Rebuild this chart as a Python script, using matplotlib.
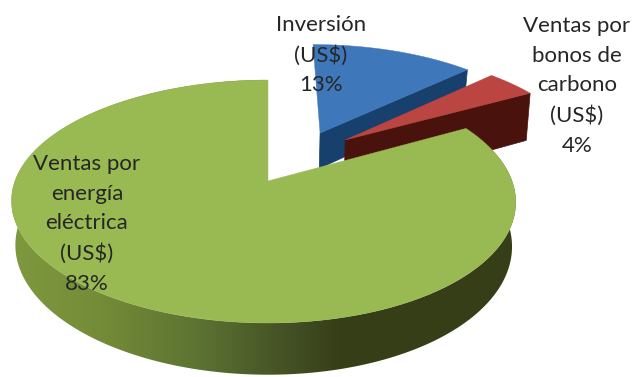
import matplotlib
matplotlib.use("Agg")
import matplotlib.pyplot as plt
from matplotlib.patches import Polygon
import numpy as np

# Data
categories = ["Inversión\n(US$)", "Ventas por\nbonos de\ncarbono\n(US$)", "Ventas por\nenergía\neléctrica\n(US$)"]
values = [13, 4, 83]

# Slice styles, same order as values
top_colors = ["#3f78ba", "#bb4540", "#99b952"]
side_colors = ["#17406d", "#4a120c", None]
explode_u = [0.225, 0.33, 0.0]
explode_v = [0.436, 0.369, 0.0]
skew = [0.0, 0.0, 4.5]
depth = [38, 54, 43]
label_x = [321, 577, 87]
label_y = [55, 86, 224]

# Gradient on the outer wall of the big slice
wall_x = [15, 100, 200, 300, 340]
wall_rgb = np.array([[126, 152, 62], [116, 140, 56], [92, 114, 50], [64, 76, 34], [54, 62, 24]]) / 255

# Perspective of the disc, in pixels
CX, CY = 268, 181
R, K, C = 248.5, 87.5, 0.1687


def project(u, v, sk=0.0):
    d = 1 + C * v
    x = CX + R * u / d - sk * u ** 2
    y = (CY - K * v) / d
    return x, y


def project_low(u, v, dp, sk=0.0):
    x, y = project(u, v, sk)
    return CX + (x - CX) * 0.985, y + dp / (1 + C * v)


fig = plt.figure(figsize=(6.34, 3.77), dpi=100)
ax = fig.add_axes([0, 0, 1, 1])
ax.set_xlim(0, 634)
ax.set_ylim(377, 0)
ax.axis("off")

total = sum(values)
start = 0.0
for i, val in enumerate(values):
    stop = start + val / total * 2 * np.pi
    th = np.linspace(start, stop, 240)
    u = np.sin(th) + explode_u[i]
    v = np.cos(th) + explode_v[i]
    u0, v0 = explode_u[i], explode_v[i]

    xt, yt = project(u, v, skew[i])
    xl, yl = project_low(u, v, depth[i], skew[i])
    x0, y0 = project(u0, v0, skew[i])
    x0l, y0l = project_low(u0, v0, depth[i], skew[i])

    if side_colors[i] is not None:
        # only the cut face at the end of the slice looks at the viewer
        ax.fill([x0, xt[-1], xl[-1], x0l], [y0, yt[-1], yl[-1], y0l], color=side_colors[i], lw=0.5)
    else:
        # outer wall, horizontal gradient clipped to the wall outline
        gx = np.arange(0, 634)
        grad = np.stack([np.interp(gx, wall_x, wall_rgb[:, k]) for k in range(3)], axis=1)[None, :, :]
        wall = Polygon(np.c_[np.r_[xt, xl[::-1]], np.r_[yt, yl[::-1]]], closed=True,
                       transform=ax.transData, fc="none", ec="none")
        ax.add_patch(wall)
        im = ax.imshow(grad, extent=(0, 634, 377, 0), aspect="auto")
        im.set_clip_path(wall)

    ax.fill(np.r_[x0, xt], np.r_[y0, yt], color=top_colors[i], lw=0.3)
    start = stop

for i, val in enumerate(values):
    ax.text(label_x[i], label_y[i], f"{categories[i]}\n{val}%", ha="center", va="center",
            family="Lato", fontsize=16, color="#262626", linespacing=1.6)

ax.set_xlim(0, 634)
ax.set_ylim(377, 0)
plt.savefig("out.png", dpi=100)
plt.close()
